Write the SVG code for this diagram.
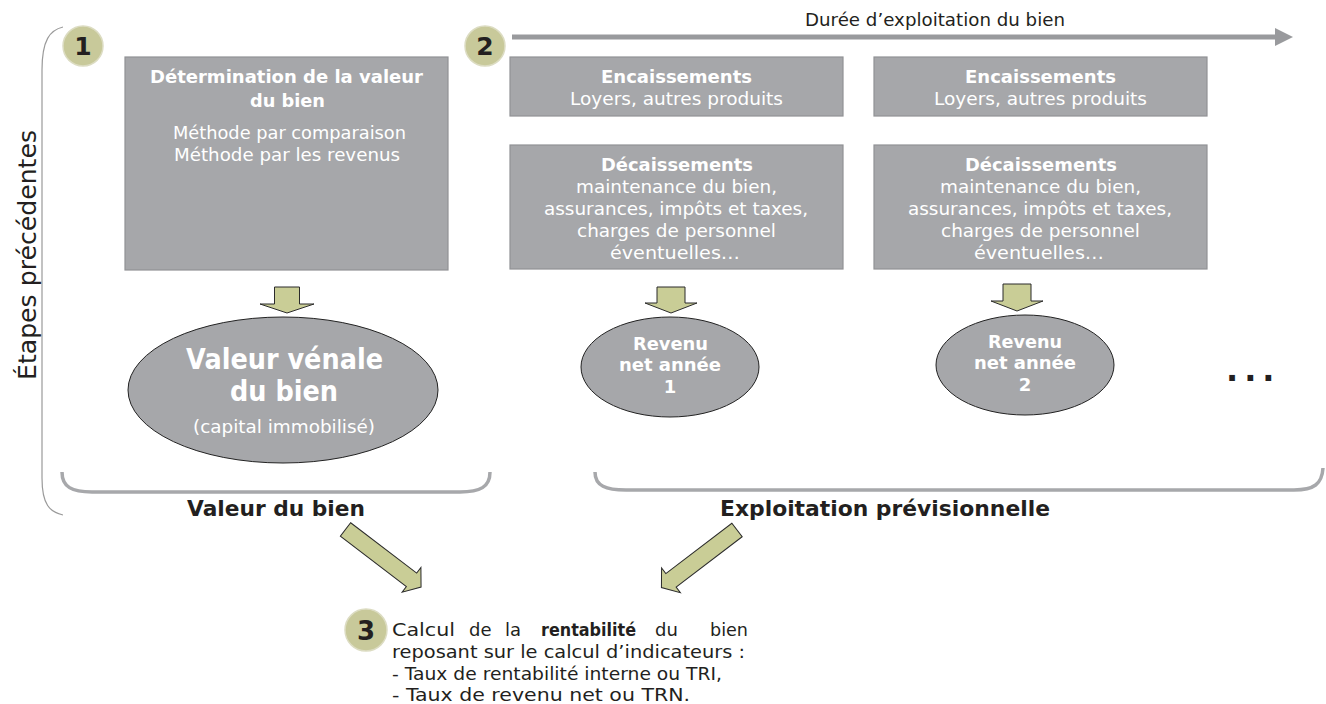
<svg xmlns="http://www.w3.org/2000/svg" width="1326" height="704" viewBox="0 0 1326 704">
<defs>
<style>
text{font-family:"DejaVu Sans","Liberation Sans",sans-serif;}
.box{fill:#a6a7aa;stroke:#919295;stroke-width:1.2;}
.ell{fill:#a6a7aa;stroke:#222;stroke-width:1;}
.w{fill:#fff;}
.b{font-weight:bold;}
.k{fill:#231f20;}
.olive{fill:#c9cd96;stroke:#2b2b2b;stroke-width:1;}
.num{fill:#c8c99a;stroke:#dcdcc2;stroke-width:1.5;}
.brk{fill:none;stroke:#a7a8ab;stroke-width:3.5;}
</style>
<polygon id="diag" points="0,-8.5 83,-8.5 83,-15.5 95,0 83,15.5 83,8.5 0,8.5"/>
</defs>
<rect width="1326" height="704" fill="#fff"/>

<g id="bracket-etapes">
<path d="M63,27 C50,30 42,40 42,70 L42,478 C42,505 50,512 63,515" fill="none" stroke="#9a9a9a" stroke-width="1.2"/>
<text transform="translate(36,255) rotate(-90)" text-anchor="middle" font-size="24" fill="#231f20" textLength="250" lengthAdjust="spacingAndGlyphs">Étapes précédentes</text>
</g>

<g id="step1">
<circle class="num" cx="83" cy="46" r="20"/>
<text x="83" y="55" text-anchor="middle" class="b k" font-size="25">1</text>
</g>
<g id="step2">
<circle class="num" cx="485" cy="46" r="20"/>
<text x="485" y="55" text-anchor="middle" class="b k" font-size="25">2</text>
</g>
<g id="step3">
<circle class="num" cx="366" cy="630" r="21"/>
<text x="366" y="640" text-anchor="middle" class="b k" font-size="26">3</text>
</g>

<g id="timeline">
<line x1="512" y1="37" x2="1277" y2="37" stroke="#999a9d" stroke-width="5"/>
<polygon points="1275,28 1293,37 1275,46" fill="#999a9d"/>
<text x="805" y="26" font-size="18" class="k" textLength="260" lengthAdjust="spacingAndGlyphs">Durée d’exploitation du bien</text>
</g>

<g id="box-determination">
<rect class="box" x="125" y="57" width="323" height="213"/>
<text x="150" y="83" class="w b" font-size="18" textLength="273" lengthAdjust="spacingAndGlyphs">Détermination de la valeur</text>
<text x="250" y="107" class="w b" font-size="18" textLength="75" lengthAdjust="spacingAndGlyphs">du bien</text>
<text x="173" y="139" class="w" font-size="18" textLength="233" lengthAdjust="spacingAndGlyphs">Méthode par comparaison</text>
<text x="174" y="161" class="w" font-size="18" textLength="226" lengthAdjust="spacingAndGlyphs">Méthode par les revenus</text>
</g>

<g id="enc1">
<rect class="box" x="510" y="57" width="333" height="59"/>
<text x="601" y="83" class="w b" font-size="18" textLength="151" lengthAdjust="spacingAndGlyphs">Encaissements</text>
<text x="570" y="105" class="w" font-size="18" textLength="213" lengthAdjust="spacingAndGlyphs">Loyers, autres produits</text>
</g>
<g id="enc2">
<rect class="box" x="874" y="57" width="333" height="59"/>
<text x="965" y="83" class="w b" font-size="18" textLength="151" lengthAdjust="spacingAndGlyphs">Encaissements</text>
<text x="934" y="105" class="w" font-size="18" textLength="213" lengthAdjust="spacingAndGlyphs">Loyers, autres produits</text>
</g>

<g id="dec1">
<rect class="box" x="510" y="145" width="333" height="124"/>
<text x="601" y="171" class="w b" font-size="18" textLength="152" lengthAdjust="spacingAndGlyphs">Décaissements</text>
<text x="576" y="193" class="w" font-size="18" textLength="201" lengthAdjust="spacingAndGlyphs">maintenance du bien,</text>
<text x="544" y="215" class="w" font-size="18" textLength="264" lengthAdjust="spacingAndGlyphs">assurances, impôts et taxes,</text>
<text x="577" y="237" class="w" font-size="18" textLength="199" lengthAdjust="spacingAndGlyphs">charges de personnel</text>
<text x="610" y="259" class="w" font-size="18" textLength="130" lengthAdjust="spacingAndGlyphs">éventuelles…</text>
</g>
<g id="dec2">
<rect class="box" x="874" y="145" width="333" height="124"/>
<text x="965" y="171" class="w b" font-size="18" textLength="152" lengthAdjust="spacingAndGlyphs">Décaissements</text>
<text x="940" y="193" class="w" font-size="18" textLength="201" lengthAdjust="spacingAndGlyphs">maintenance du bien,</text>
<text x="908" y="215" class="w" font-size="18" textLength="264" lengthAdjust="spacingAndGlyphs">assurances, impôts et taxes,</text>
<text x="941" y="237" class="w" font-size="18" textLength="199" lengthAdjust="spacingAndGlyphs">charges de personnel</text>
<text x="974" y="259" class="w" font-size="18" textLength="130" lengthAdjust="spacingAndGlyphs">éventuelles…</text>
</g>

<g id="valeur-venale">
<ellipse class="ell" cx="283" cy="390" rx="155" ry="73"/>
<text x="186" y="369" class="w b" font-size="28" textLength="197" lengthAdjust="spacingAndGlyphs">Valeur vénale</text>
<text x="230" y="401" class="w b" font-size="28" textLength="108" lengthAdjust="spacingAndGlyphs">du bien</text>
<text x="193" y="433" class="w" font-size="17.5" textLength="182" lengthAdjust="spacingAndGlyphs">(capital immobilisé)</text>
</g>

<g id="revenu1">
<ellipse class="ell" cx="670" cy="367" rx="89" ry="50"/>
<text x="633" y="350" class="w b" font-size="18" textLength="75" lengthAdjust="spacingAndGlyphs">Revenu</text>
<text x="619" y="371" class="w b" font-size="18" textLength="102" lengthAdjust="spacingAndGlyphs">net année</text>
<text x="670" y="393" class="w b" font-size="18" text-anchor="middle">1</text>
</g>
<g id="revenu2">
<ellipse class="ell" cx="1025" cy="365" rx="89" ry="50"/>
<text x="988" y="348" class="w b" font-size="18" textLength="74" lengthAdjust="spacingAndGlyphs">Revenu</text>
<text x="974" y="369" class="w b" font-size="18" textLength="102" lengthAdjust="spacingAndGlyphs">net année</text>
<text x="1025" y="391" class="w b" font-size="18" text-anchor="middle">2</text>
</g>

<g id="ellipsis">
<text x="1226" y="381" class="b k" font-size="32" letter-spacing="6">...</text>
</g>

<g id="groupe-valeur">
<path class="brk" d="M62,472 C62,487 72,492 92,492 L460,492 C480,492 490,487 490,472"/>
<text x="187" y="516" class="b k" font-size="21" textLength="178" lengthAdjust="spacingAndGlyphs">Valeur du bien</text>
</g>
<g id="groupe-exploitation">
<path class="brk" d="M595,472 C595,486 606,490 626,490 L1294,490 C1314,490 1322,484 1323,468"/>
<text x="720" y="516" class="b k" font-size="22" textLength="330" lengthAdjust="spacingAndGlyphs">Exploitation prévisionnelle</text>
</g>

<g id="rentabilite">
<text y="636" font-size="18" class="k">
<tspan x="392" textLength="63" lengthAdjust="spacingAndGlyphs">Calcul</tspan><tspan x="469">de</tspan><tspan x="505">la</tspan><tspan x="541" class="b" textLength="95" lengthAdjust="spacingAndGlyphs">rentabilité</tspan><tspan x="655">du</tspan><tspan x="710" textLength="38" lengthAdjust="spacingAndGlyphs">bien</tspan>
</text>
<text x="392" y="658" font-size="18" class="k" textLength="353" lengthAdjust="spacingAndGlyphs">reposant sur le calcul d’indicateurs :</text>
<text x="392" y="680" font-size="18" class="k" textLength="330" lengthAdjust="spacingAndGlyphs">- Taux de rentabilité interne ou TRI,</text>
<text x="392" y="701" font-size="18" class="k" textLength="298" lengthAdjust="spacingAndGlyphs">- Taux de revenu net ou TRN.</text>
</g>

<g id="connectors">
<polygon class="olive" points="274.5,287 299.5,287 299.5,304 314,304 287,313 260,304 274.5,304"/>
<polygon class="olive" points="657,287 685,287 685,303 697,303 671,313 645,303 657,303"/>
<polygon class="olive" points="1003,284 1031,284 1031,301 1043,301 1017,311 991,301 1003,301"/>
<use href="#diag" class="olive" transform="translate(345.5,529.5) rotate(37.3)"/>
<use href="#diag" class="olive" transform="translate(737,530) rotate(142.7)"/>
</g>
</svg>
